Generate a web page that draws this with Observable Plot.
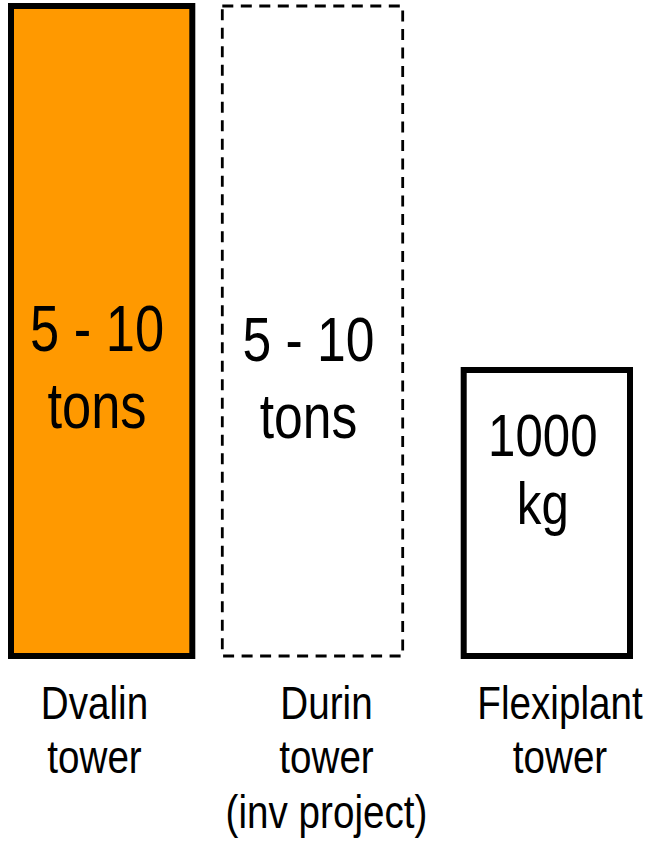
<!DOCTYPE html>
<html>
<head>
<meta charset="utf-8">
<script src="https://cdn.jsdelivr.net/npm/d3@7"></script>
<script src="https://cdn.jsdelivr.net/npm/@observablehq/plot@0.6"></script>
<style>
  html, body { margin: 0; padding: 0; background: #fff; }
</style>
</head>
<body>
<div id="chart"></div>
<script>
// ---- data ----
const categories = ["Dvalin", "Durin", "Flexiplant"];
const values = [10, 10, 4.4];
const barTexts = ["5 - 10\ntons", "5 - 10\ntons", "1000\nkg"];
const axisLabels = ["Dvalin\ntower", "Durin\ntower\n(inv project)", "Flexiplant\ntower"];

const data = categories.map((c, i) => ({cat: c, value: values[i], text: barTexts[i], label: axisLabels[i]}));

// ---- styles (per bar) ----
const FONT = '"Liberation Sans Narrow", "Arial Narrow", "Liberation Sans", Arial, sans-serif';
const NARROW_IN = 0.82;   // horizontal condensing of in-bar text
const NARROW_LAB = 0.84;  // horizontal condensing of category labels
const styles = [
  {fill: "#ff9900", stroke: "#000", strokeWidth: 6, dash: null, insetLeft: 10, insetRight: 24.7,
   textDx: -12.5, textDy: 96, fontSize: 64, lineHeight: 1.19, labelDx: -15},
  {fill: "none", stroke: "#000", strokeWidth: 2.8, dash: "11,7.5", insetLeft: 5.3, insetRight: 30.3,
   textDx: -17, textDy: 106, fontSize: 63, lineHeight: 1.22, labelDx: 1},
  {fill: "none", stroke: "#000", strokeWidth: 6, dash: null, insetLeft: 30.7, insetRight: 19,
   textDx: 1.3, textDy: 10.5, fontSize: 60, lineHeight: 1.13, labelDx: 18.5}
];

const marks = [];
data.forEach((d, i) => {
  const s = styles[i];
  const sub = [d];
  marks.push(Plot.barY(sub, {
    x: "cat", y: "value",
    fill: s.fill, stroke: s.stroke, strokeWidth: s.strokeWidth,
    strokeDasharray: s.dash, strokeLinejoin: "miter",
    insetLeft: s.insetLeft, insetRight: s.insetRight
  }));
  marks.push(Plot.text(sub, {
    x: "cat", y: dd => dd.value / 2, text: "text",
    lineAnchor: "bottom", lineHeight: s.lineHeight,
    fontSize: s.fontSize, fontFamily: FONT, fill: "#000",
    dx: s.textDx, dy: s.textDy, className: "bartext"
  }));
  marks.push(Plot.text(sub, {
    x: "cat", text: "label", frameAnchor: "bottom",
    lineAnchor: "top", lineHeight: 1.185,
    fontSize: 46, fontFamily: FONT, fill: "#000",
    dx: s.labelDx, dy: 23.3, className: "cattext"
  }));
});

const chart = Plot.plot({
  width: 650,
  height: 841,
  marginTop: 6,
  marginBottom: 185,
  marginLeft: 0,
  marginRight: 0,
  style: {background: "#fff", fontFamily: FONT, overflow: "visible"},
  x: {domain: categories, padding: 0, axis: null},
  y: {domain: [0, 10], axis: null},
  marks
});
// condense text horizontally around each text's anchor
function condense(sel, k) {
  chart.querySelectorAll(sel).forEach(t => {
    const tr = t.getAttribute("transform") || "";
    t.setAttribute("transform", (tr + ` scale(${k},1)`).trim());
  });
}
condense(".bartext text", NARROW_IN);
condense(".cattext text", NARROW_LAB);
document.getElementById("chart").appendChild(chart);
</script>
</body>
</html>
